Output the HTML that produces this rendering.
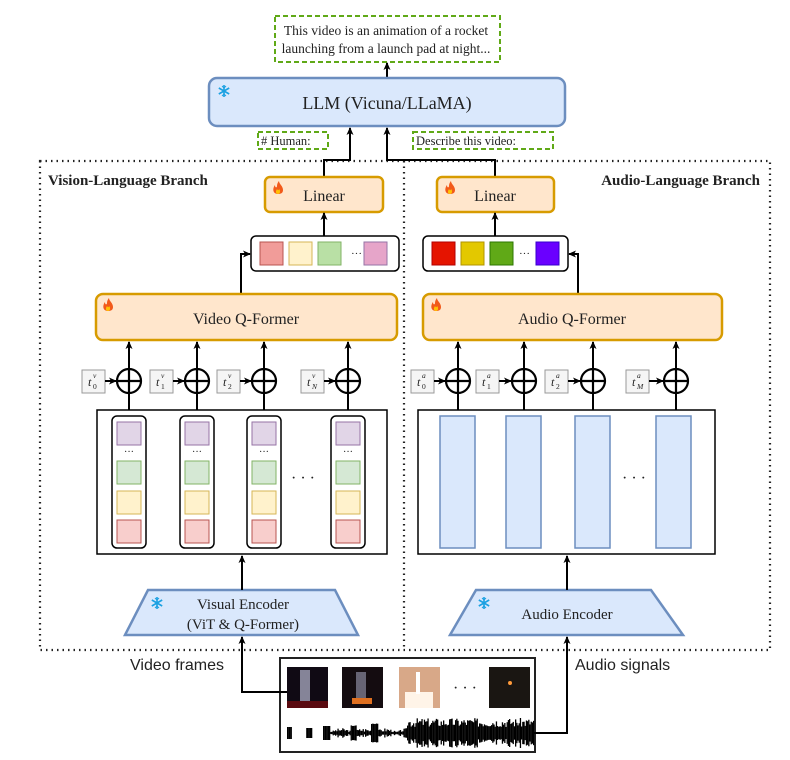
<!DOCTYPE html>
<html><head><meta charset="utf-8"><style>
body{margin:0;background:#fff}
svg{display:block}
text{font-family:"Liberation Serif",serif;fill:#222}
</style></head><body>
<svg id="g" width="790" height="760" viewBox="0 0 790 760" xmlns="http://www.w3.org/2000/svg">
<defs>
<marker id="a" markerWidth="8" markerHeight="8" refX="7" refY="4" orient="auto" markerUnits="userSpaceOnUse"><path d="M0,0.5 L8,4 L0,7.5 L2,4 z" fill="#000"/></marker>
<g id="snow" stroke="#1ba1e2" stroke-width="1.6" fill="none"><path d="M0,-6V6M-5.2,-3L5.2,3M-5.2,3L5.2,-3"/><path d="M-2,-5L0,-3L2,-5M-2,5L0,3L2,5" stroke-width="1"/></g>
<g id="fire"><path d="M0,6 C-5,6 -6,1 -3,-3 C-3,0 -1,0 -1,-2 C-1,-5 1,-7 1,-7 C1,-4 5,-2 5,2 C5,5 3,6 0,6z" fill="#f25a1a"/><path d="M0,6 C-2,6 -3,4 -1,1 C0,3 1,2 1,1 C3,3 2,6 0,6z" fill="#ffc107"/></g>
</defs>

<g fill="none" stroke="#222" stroke-width="2.2" stroke-dasharray="1.5 4">
<path d="M40,161H770V650H40Z"/>
<path d="M404,161V650"/>
</g>
<text x="48" y="185" font-size="15" font-weight="bold" fill="#000">Vision-Language Branch</text>
<text x="760" y="185" font-size="15" font-weight="bold" text-anchor="end" fill="#000">Audio-Language Branch</text>

<rect x="275" y="16" width="225" height="46" fill="#fff" stroke="#60a917" stroke-width="2" stroke-dasharray="5 3"/>
<text x="386" y="35" font-size="13.5" text-anchor="middle">This video is an animation of a rocket</text>
<text x="386" y="53" font-size="13.5" text-anchor="middle">launching from a launch pad at night...</text>
<line x1="387" y1="78" x2="387" y2="63" stroke="#000" stroke-width="2" marker-end="url(#a)"/>

<rect x="209" y="78" width="356" height="48" rx="8" fill="#dae8fc" stroke="#6c8ebf" stroke-width="2.5"/>
<use href="#snow" x="224" y="91"/>
<text x="387" y="109" font-size="18" text-anchor="middle">LLM (Vicuna/LLaMA)</text>

<rect x="258" y="132" width="70" height="17" fill="#fff" stroke="#60a917" stroke-width="2" stroke-dasharray="5 3"/>
<text x="261" y="145" font-size="12.5"># Human:</text>
<rect x="413" y="132" width="140" height="17" fill="#fff" stroke="#60a917" stroke-width="2" stroke-dasharray="5 3"/>
<text x="416" y="145" font-size="12.5">Describe this video:</text>

<g fill="none" stroke="#000" stroke-width="2">
<path d="M324,177V160H350V128" marker-end="url(#a)"/>
<path d="M495,177V160H387V128" marker-end="url(#a)"/>
</g>

<rect x="265" y="177" width="118" height="35" rx="5" fill="#ffe6cc" stroke="#d79b00" stroke-width="2.5"/>
<use href="#fire" x="278" y="188"/>
<text x="324" y="201" font-size="16" text-anchor="middle">Linear</text>
<rect x="437" y="177" width="117" height="35" rx="5" fill="#ffe6cc" stroke="#d79b00" stroke-width="2.5"/>
<use href="#fire" x="450" y="188"/>
<text x="495" y="201" font-size="16" text-anchor="middle">Linear</text>

<rect x="251" y="236" width="148" height="35" rx="5" fill="#fff" stroke="#000" stroke-width="1.5"/>
<rect x="260" y="242" width="23" height="23" fill="#f19c99" stroke="#b85450"/>
<rect x="289" y="242" width="23" height="23" fill="#fff2cc" stroke="#d6b656"/>
<rect x="318" y="242" width="23" height="23" fill="#b9e0a5" stroke="#82b366"/>
<text x="351" y="257" font-size="11">···</text>
<rect x="364" y="242" width="23" height="23" fill="#e6a5c9" stroke="#9673a6"/>
<line x1="324" y1="236" x2="324" y2="213" stroke="#000" stroke-width="2" marker-end="url(#a)"/>
<path d="M241,294V254H250" fill="none" stroke="#000" stroke-width="2" marker-end="url(#a)"/>

<rect x="423" y="236" width="145" height="35" rx="5" fill="#fff" stroke="#000" stroke-width="1.5"/>
<rect x="432" y="242" width="23" height="23" fill="#e51400" stroke="#b20000"/>
<rect x="461" y="242" width="23" height="23" fill="#e3c800" stroke="#b09500"/>
<rect x="490" y="242" width="23" height="23" fill="#60a917" stroke="#2d7600"/>
<text x="519" y="257" font-size="11">···</text>
<rect x="536" y="242" width="23" height="23" fill="#6a00ff" stroke="#3700cc"/>
<line x1="495" y1="236" x2="495" y2="213" stroke="#000" stroke-width="2" marker-end="url(#a)"/>
<path d="M578,294V254H569" fill="none" stroke="#000" stroke-width="2" marker-end="url(#a)"/>

<rect x="96" y="294" width="301" height="46" rx="7" fill="#ffe6cc" stroke="#d79b00" stroke-width="2.5"/>
<use href="#fire" x="108" y="305"/>
<text x="246" y="324" font-size="16" text-anchor="middle">Video Q-Former</text>
<rect x="423" y="294" width="299" height="46" rx="7" fill="#ffe6cc" stroke="#d79b00" stroke-width="2.5"/>
<use href="#fire" x="436" y="305"/>
<text x="572" y="324" font-size="16" text-anchor="middle">Audio Q-Former</text>

<rect x="97" y="410" width="290" height="144" fill="#fff" stroke="#000" stroke-width="1.5"/>
<rect x="418" y="410" width="297" height="144" fill="#fff" stroke="#000" stroke-width="1.5"/>
<g id="cols"></g>
<text x="303" y="483" font-size="16" text-anchor="middle">· · ·</text>
<text x="634" y="483" font-size="16" text-anchor="middle">· · ·</text>

<path d="M148,590H335L358,635H125Z" fill="#dae8fc" stroke="#6c8ebf" stroke-width="2.5"/>
<use href="#snow" x="157" y="603"/>
<text x="243" y="609" font-size="15" text-anchor="middle">Visual Encoder</text>
<text x="243" y="629" font-size="15" text-anchor="middle">(ViT &amp; Q-Former)</text>
<path d="M476,590H651L683,635H450Z" fill="#dae8fc" stroke="#6c8ebf" stroke-width="2.5"/>
<use href="#snow" x="484" y="603"/>
<text x="567" y="619" font-size="15" text-anchor="middle">Audio Encoder</text>
<line x1="242" y1="590" x2="242" y2="556" stroke="#000" stroke-width="2" marker-end="url(#a)"/>
<line x1="567" y1="590" x2="567" y2="556" stroke="#000" stroke-width="2" marker-end="url(#a)"/>

<text x="130" y="670" font-size="16" style="font-family:'Liberation Sans',sans-serif">Video frames</text>
<text x="575" y="670" font-size="16" style="font-family:'Liberation Sans',sans-serif">Audio signals</text>
<rect x="280" y="658" width="255" height="94" fill="#fff" stroke="#222" stroke-width="2"/>
<rect x="287" y="667" width="41" height="41" fill="#100a14"/><rect x="300" y="670" width="10" height="32" fill="#b8b8d0" opacity="0.7"/><rect x="287" y="701" width="41" height="7" fill="#5a0a10"/>
<rect x="342" y="667" width="41" height="41" fill="#140c10"/><rect x="356" y="672" width="10" height="28" fill="#8a8aa0" opacity="0.7"/><rect x="352" y="698" width="20" height="6" fill="#e07020"/>
<rect x="399" y="667" width="41" height="41" fill="#d8a888"/><rect x="405" y="692" width="28" height="16" fill="#fff4e8"/><rect x="416" y="672" width="4" height="22" fill="#fff"/>
<text x="465" y="693" font-size="16" text-anchor="middle">· · ·</text>
<rect x="489" y="667" width="41" height="41" fill="#1a1612"/><circle cx="510" cy="683" r="2" fill="#ff9a3a"/>
<g id="wave" fill="#000"></g>
<path d="M287,692H242V637" fill="none" stroke="#000" stroke-width="2" marker-end="url(#a)"/>
<path d="M534,733H567V637" fill="none" stroke="#000" stroke-width="2" marker-end="url(#a)"/>
</svg>
<script>
var NS="http://www.w3.org/2000/svg";
function el(p,t,at,txt){var e=document.createElementNS(NS,t);for(var k in at)e.setAttribute(k,at[k]);if(txt)e.textContent=txt;p.appendChild(e);return e;}
var svg=document.getElementById('g');
function branch(px,tx,lbls,sub){
 for(var i=0;i<4;i++){
  var x=px[i];
  el(svg,'line',{x1:x,y1:410,x2:x,y2:394,stroke:'#000','stroke-width':2});
  el(svg,'line',{x1:x,y1:369,x2:x,y2:342,stroke:'#000','stroke-width':2,'marker-end':'url(#a)'});
  el(svg,'circle',{cx:x,cy:381,r:12,fill:'#fff',stroke:'#000','stroke-width':2.2});
  el(svg,'path',{d:'M'+(x-12)+',381H'+(x+12)+'M'+x+',369V393',stroke:'#000','stroke-width':2.2,fill:'none'});
  el(svg,'rect',{x:tx[i],y:370,width:23,height:23,fill:'#f5f5f5',stroke:'#999'});
  el(svg,'line',{x1:tx[i]+23,y1:381,x2:x-13,y2:381,stroke:'#000','stroke-width':2,'marker-end':'url(#a)'});
  el(svg,'text',{x:tx[i]+6,y:386,'font-size':12,'font-style':'italic',fill:'#444'},'t');
  el(svg,'text',{x:tx[i]+11,y:378,'font-size':7.5,'font-style':'italic',fill:'#444'},sub);
  el(svg,'text',{x:tx[i]+11,y:389,'font-size':7.5,'font-style':lbls[i].match(/\d/)?'normal':'italic',fill:'#444'},lbls[i]);
 }
}
branch([129,197,264,348],[82,150,217,301],['0','1','2','N'],'v');
branch([458,524,593,676],[411,476,545,626],['0','1','2','M'],'a');
var cols=document.getElementById('cols');
[112,180,247,331].forEach(function(x){
 el(cols,'rect',{x:x,y:416,width:34,height:132,rx:5,fill:'#fff',stroke:'#000','stroke-width':1.5});
 el(cols,'rect',{x:x+5,y:422,width:24,height:23,fill:'#e1d5e7',stroke:'#9673a6'});
 el(cols,'text',{x:x+17,y:455,'font-size':10,'text-anchor':'middle'},'···');
 el(cols,'rect',{x:x+5,y:461,width:24,height:23,fill:'#d5e8d4',stroke:'#82b366'});
 el(cols,'rect',{x:x+5,y:491,width:24,height:23,fill:'#fff2cc',stroke:'#d6b656'});
 el(cols,'rect',{x:x+5,y:520,width:24,height:23,fill:'#f8cecc',stroke:'#b85450'});
});
[440,506,575,656].forEach(function(x){
 el(cols,'rect',{x:x,y:416,width:35,height:132,fill:'#dae8fc',stroke:'#6c8ebf','stroke-width':1.5});
});
var w=document.getElementById('wave');
var seed=3;function rnd(){seed=(seed*9301+49297)%233280;return seed/233280;}
for(var x=287;x<533;x+=1.2){
 var a=0;
 if(x<291)a=6;else if(x>305&&x<311)a=5;else if(x>322&&x<330)a=7;
 else if(x>330&&x<406)a=1+4*Math.abs(Math.sin((x-330)/7))*rnd()+(x>350&&x<356?6:0)+(x>370&&x<378?8:0);
 else if(x>=406)a=6+9*rnd();
 if(a>0)el(w,'rect',{x:x,y:733-a,width:1.3,height:2*a});
}
</script>
</body></html>
